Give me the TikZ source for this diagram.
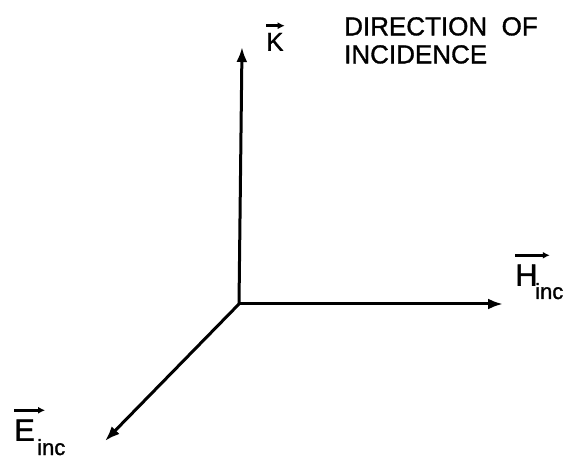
\documentclass[tikz,border=0pt]{standalone}
\usepackage{fontspec}
\setmainfont[FakeBold=1.2,BoldFont=Liberation Sans,BoldFeatures={FakeBold=1.2}]{Liberation Sans}
\newfontfamily\lblfont[FakeBold=1.2]{Liberation Sans}
\usetikzlibrary{arrows.meta}
\begin{document}
\begin{tikzpicture}[x=1pt,y=-1pt,
  axis/.style={line width=3pt,-{Latex[length=15pt,width=11pt]}},
  lbl/.style={inner sep=0pt,font=\lblfont\fontsize{26}{28}\selectfont},
  vecarrow/.style={line width=3pt,-{Latex[length=7pt,width=7pt]}}]
\useasboundingbox (0,0) rectangle (568,465);
\coordinate (O) at (239,304);
\coordinate (Ktip) at (242,47);
\coordinate (Htip) at (503,304);
\coordinate (Etip) at (105,441);
\draw[axis] (O) -- (Ktip);
\draw[axis] (O) -- (Htip);
\draw[axis] (O) -- (Etip);
\node[lbl,anchor=south west] (K) at (266,51) {K};
\draw[vecarrow] ([yshift=7pt]K.north west) -- ([yshift=7pt,xshift=1pt]K.north east);
\node[lbl,anchor=north west,align=left] (dir) at (344,17) {DIRECTION\ \ OF\\INCIDENCE};
\node[lbl,anchor=south west,font=\lblfont\fontsize{31}{33}\selectfont] (H) at (515,286) {H};
\node[lbl,anchor=base west,font=\lblfont\fontsize{22}{24}\selectfont] (Hs) at (535,299) {inc};
\draw[vecarrow] ([yshift=9pt]H.north west) -- ([yshift=9pt,xshift=12pt]H.north east);
\node[lbl,anchor=south west,font=\lblfont\fontsize{31}{33}\selectfont] (E) at (14,441) {E};
\node[lbl,anchor=base west,font=\lblfont\fontsize{22}{24}\selectfont] (Es) at (37,455) {inc};
\draw[vecarrow] ([yshift=9pt]E.north west) -- ([yshift=9pt,xshift=10pt]E.north east);
\end{tikzpicture}
\end{document}
